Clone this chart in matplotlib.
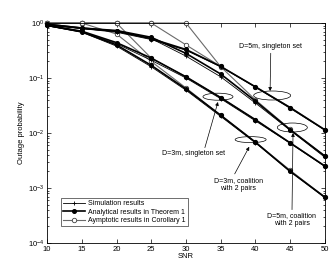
import matplotlib
matplotlib.use("Agg")
import matplotlib.pyplot as plt
import numpy as np
from matplotlib.patches import Ellipse

plt.rcParams['font.family'] = ['Liberation Sans', 'DejaVu Sans']
plt.rcParams['mathtext.default'] = 'regular'

snr = [10, 15, 20, 25, 30, 35, 40, 45, 50]

# D=5m, singleton set
a_sim = [0.93, 0.79, 0.68, 0.50, 0.32, 0.160, 0.068, 0.028, 0.0112]
a_ana = [0.95, 0.81, 0.71, 0.52, 0.33, 0.162, 0.069, 0.029, 0.0114]
a_asy = [1.0, 1.0, 1.0, 1.0, 0.40, 0.162, 0.069, 0.029, 0.0114]
# D=5m, coalition with 2 pairs
c_sim = [0.93, 0.79, 0.70, 0.52, 0.25, 0.105, 0.035, 0.0112, 0.0036]
c_ana = [0.95, 0.81, 0.73, 0.55, 0.28, 0.118, 0.038, 0.0114, 0.0038]
c_asy = [1.0, 1.0, 1.0, 1.0, 1.0, 0.16, 0.040, 0.0117, 0.0038]
# D=3m, singleton set
b_sim = [0.89, 0.69, 0.42, 0.21, 0.100, 0.042, 0.0166, 0.0065, 0.00245]
b_ana = [0.91, 0.71, 0.44, 0.23, 0.105, 0.044, 0.0174, 0.0066, 0.0025]
b_asy = [1.0, 1.0, 1.0, 0.23, 0.105, 0.044, 0.0174, 0.0066, 0.0025]
# D=3m, coalition with 2 pairs
d_sim = [0.89, 0.68, 0.38, 0.16, 0.060, 0.020, 0.0066, 0.0020, 0.00066]
d_ana = [0.91, 0.69, 0.40, 0.17, 0.063, 0.021, 0.0068, 0.0020, 0.00068]
d_asy = [1.0, 1.0, 0.63, 0.20, 0.066, 0.021, 0.0068, 0.0021, 0.00068]

legend_labels = ["Simulation results", "Analytical results in Theorem 1",
                 "Aymptotic results in Corollary 1"]

fig = plt.figure(figsize=(3.32, 2.63), dpi=100)
ax = fig.add_axes([0.1416, 0.076, 0.8373, 0.8365])

asy_style = dict(color='#6a6a6a', lw=0.8, marker='o', ms=3.2, mfc='white',
                 mec='#404040', mew=0.6)
ana_style = dict(color='black', lw=1.2, marker='o', ms=2.6, mfc='black',
                 mec='black')
sim_style = dict(color='black', lw=0.6, marker='+', ms=3.5, mew=0.6)

for s in [a_asy, c_asy, b_asy, d_asy]:
    l3, = ax.plot(snr, s, clip_on=False, **asy_style)
for s in [a_sim, c_sim, b_sim, d_sim]:
    l1, = ax.plot(snr, s, clip_on=False, **sim_style)
for s in [a_ana, c_ana, b_ana, d_ana]:
    l2, = ax.plot(snr, s, clip_on=False, **ana_style)

ax.set_yscale('log')
ax.set_xlim(10, 50)
ax.set_ylim(1e-4, 1)
ax.set_xticks([10, 15, 20, 25, 30, 35, 40, 45, 50])
ax.set_yticks([1e-4, 1e-3, 1e-2, 1e-1, 1])
ax.set_yticklabels(['$10^{-4}$', '$10^{-3}$', '$10^{-2}$', '$10^{-1}$', '$10^{0}$'])
ax.tick_params(which='both', direction='in', top=True, right=True,
               labelsize=5.5, width=0.5, pad=2)
ax.tick_params(which='major', length=3)
ax.tick_params(which='minor', length=1.6)
for sp in ax.spines.values():
    sp.set_linewidth(0.6)
ax.set_xlabel('SNR', fontsize=5.5, labelpad=0)
ax.set_ylabel('Outage probability', fontsize=5.5, labelpad=2)

leg = ax.legend([l1, l2, l3], legend_labels, loc='lower left',
                bbox_to_anchor=(0.05, 0.077), fontsize=5, frameon=True,
                fancybox=False, edgecolor='black', handlelength=3.2,
                handletextpad=0.4, borderpad=0.3, labelspacing=0.2,
                borderaxespad=0)
leg.get_frame().set_linewidth(0.5)


def axfrac(x, p):
    return ((x - 10) / 40.0, (np.log10(p) + 4) / 4.0)


ellipses = [(42.4, 10 ** -1.318, 37, 9),
            (34.6, 10 ** -1.34, 30, 7),
            (39.3, 10 ** -2.12, 31, 6),
            (45.3, 10 ** -1.90, 30, 9)]
for x, p, w, h in ellipses:
    cx, cy = axfrac(x, p)
    ax.add_patch(Ellipse((cx, cy), w / 278.0, h / 220.0, transform=ax.transAxes,
                         fill=False, ec='black', lw=0.5))

arrow = dict(arrowstyle='-|>', lw=0.5, color='black', mutation_scale=5,
             shrinkA=0, shrinkB=0)
ax.annotate('D=5m, singleton set', xy=(42.1, 10 ** -1.236),
            xytext=(42.2, 10 ** -0.436), fontsize=5, ha='center', va='center',
            arrowprops=dict(arrow, relpos=(0.5, 0)))
ax.annotate('D=3m, singleton set', xy=(34.6, 10 ** -1.436),
            xytext=(31.15, 10 ** -2.38), fontsize=5, ha='center', va='center',
            arrowprops=dict(arrow, relpos=(0.66, 1.0)))
ax.annotate('D=3m, coalition\nwith 2 pairs', xy=(39.1, 10 ** -2.25),
            xytext=(37.5, 10 ** -2.93), fontsize=5, ha='center', va='center',
            linespacing=1.2, arrowprops=dict(arrow, relpos=(0.4, 1.0)))
ax.annotate('D=5m, coalition\nwith 2 pairs', xy=(45.4, 10 ** -2.0),
            xytext=(45.25, 10 ** -3.58), fontsize=5, ha='center', va='center',
            linespacing=1.2, arrowprops=dict(arrow, relpos=(0.5, 1.0)))

fig.savefig('out.png', dpi=100)
